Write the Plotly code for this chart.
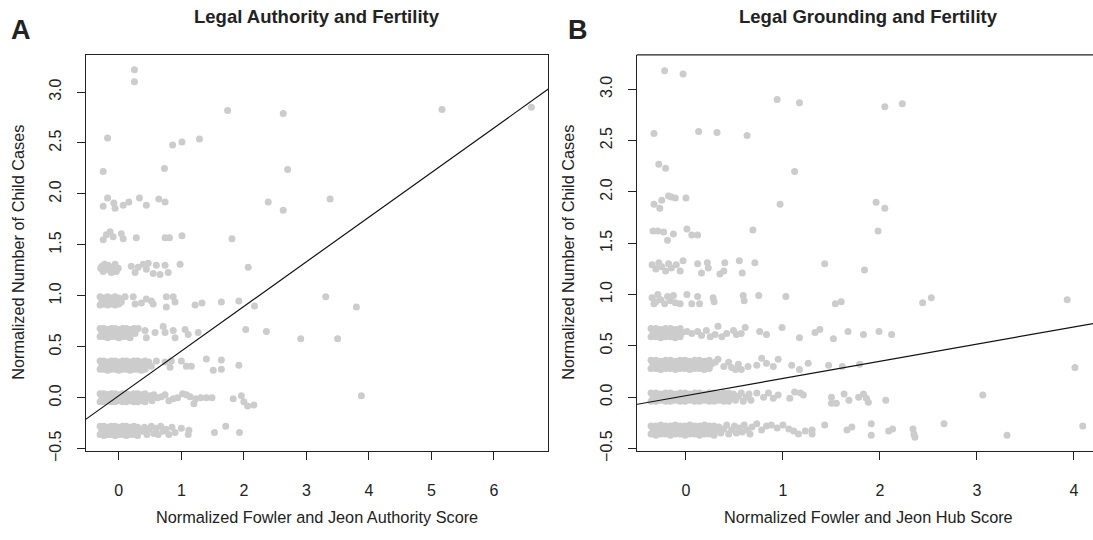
import plotly.graph_objects as go

# ---------------- Panel A: Authority score vs normalized child cases ----------------
auth_lvl1 = [
    (-0.30, -0.28), (-0.24, -0.28), (-0.18, -0.29), (-0.12, -0.28), (-0.06, -0.28), (0.00, -0.29), (0.06, -0.28),
    (0.12, -0.28), (0.18, -0.29), (0.24, -0.28), (0.30, -0.29),
    (-0.27, -0.32), (-0.21, -0.33), (-0.15, -0.32), (-0.09, -0.31), (-0.03, -0.32), (0.03, -0.33), (0.09, -0.32),
    (0.15, -0.31), (0.21, -0.32), (0.27, -0.33), (0.34, -0.32),
    (-0.30, -0.36), (-0.24, -0.37), (-0.18, -0.36), (-0.12, -0.36), (-0.06, -0.37), (0.00, -0.36), (0.06, -0.36),
    (0.12, -0.37), (0.18, -0.36), (0.24, -0.36), (0.30, -0.37),
    (0.38, -0.33), (0.41, -0.29), (0.45, -0.36), (0.48, -0.31), (0.52, -0.28), (0.56, -0.35), (0.60, -0.30),
    (0.63, -0.36), (0.67, -0.28), (0.71, -0.33), (0.75, -0.31), (0.80, -0.36), (0.85, -0.29), (0.90, -0.34),
    (1.00, -0.30), (1.11, -0.36), (1.12, -0.32), (1.53, -0.34), (1.71, -0.28), (1.93, -0.34),
]
auth_lvl2 = [
    (-0.30, 0.04), (-0.24, 0.04), (-0.18, 0.03), (-0.12, 0.04), (-0.06, 0.04), (0.00, 0.03), (0.06, 0.04),
    (0.12, 0.04), (0.18, 0.03), (0.24, 0.04), (0.30, 0.04), (0.36, 0.03), (0.42, 0.04),
    (-0.27, 0.00), (-0.21, -0.01), (-0.15, 0.00), (-0.09, 0.01), (-0.03, 0.00), (0.03, -0.01), (0.09, 0.00),
    (0.15, 0.01), (0.21, 0.00), (0.27, -0.01), (0.33, 0.00), (0.39, 0.01), (0.46, 0.00),
    (-0.30, -0.04), (-0.24, -0.04), (-0.18, -0.03), (-0.12, -0.04), (-0.06, -0.04), (0.00, -0.03), (0.06, -0.04),
    (0.12, -0.04), (0.18, -0.03), (0.24, -0.04), (0.30, -0.04), (0.36, -0.03), (0.42, -0.04),
    (0.50, 0.02), (0.53, -0.03),
    (0.56, 0.03), (0.62, 0.00), (0.68, 0.01), (0.74, 0.03), (0.80, -0.03), (0.87, -0.01), (0.94, 0.00),
    (1.02, 0.04), (1.08, 0.03), (1.14, 0.01), (1.20, -0.06), (1.23, -0.01), (1.31, 0.00), (1.40, 0.00),
    (1.49, 0.00), (1.83, -0.01), (1.96, 0.02), (2.00, -0.04), (2.06, -0.08), (2.16, -0.07), (3.88, 0.02),
]
auth_lvl3 = [
    (-0.30, 0.36), (-0.24, 0.36), (-0.18, 0.35), (-0.12, 0.36), (-0.06, 0.36), (0.00, 0.35), (0.06, 0.36),
    (0.12, 0.36), (0.18, 0.35), (0.24, 0.36), (0.30, 0.36), (0.36, 0.35), (0.42, 0.36), (0.48, 0.35),
    (-0.27, 0.32), (-0.21, 0.31), (-0.15, 0.32), (-0.09, 0.33), (-0.03, 0.32), (0.03, 0.31), (0.09, 0.32),
    (0.15, 0.33), (0.21, 0.32), (0.27, 0.31), (0.33, 0.32), (0.39, 0.33), (0.45, 0.32), (0.52, 0.31),
    (-0.30, 0.28), (-0.24, 0.28), (-0.18, 0.27), (-0.12, 0.28), (-0.06, 0.28), (0.00, 0.27), (0.06, 0.28),
    (0.12, 0.28), (0.18, 0.27), (0.24, 0.28), (0.30, 0.28), (0.36, 0.27), (0.42, 0.28),
    (0.60, 0.36), (0.74, 0.35), (0.84, 0.36), (0.82, 0.30), (1.00, 0.36), (1.08, 0.31), (1.16, 0.31),
    (1.40, 0.38), (1.51, 0.27), (1.64, 0.37), (1.64, 0.28), (1.92, 0.32),
]
auth_lvl4 = [
    (-0.30, 0.68), (-0.24, 0.68), (-0.18, 0.67), (-0.12, 0.68), (-0.06, 0.68), (0.00, 0.67), (0.06, 0.68),
    (0.12, 0.68), (0.18, 0.67), (0.24, 0.68),
    (-0.27, 0.64), (-0.21, 0.63), (-0.15, 0.64), (-0.09, 0.65), (-0.03, 0.64), (0.03, 0.63), (0.09, 0.64),
    (0.15, 0.65), (0.21, 0.64), (0.26, 0.63),
    (-0.30, 0.60), (-0.24, 0.60), (-0.18, 0.59), (-0.12, 0.60), (-0.06, 0.60), (0.00, 0.59), (0.06, 0.60),
    (0.12, 0.60), (0.18, 0.59),
    (0.31, 0.68), (0.42, 0.66), (0.44, 0.59), (0.58, 0.64), (0.71, 0.70), (0.74, 0.64), (0.87, 0.66),
    (0.90, 0.59), (1.06, 0.67), (1.11, 0.62), (1.27, 0.64), (2.03, 0.67), (2.36, 0.65), (2.91, 0.58),
    (3.50, 0.58),
]
auth_lvl5 = [
    (-0.30, 0.99), (-0.24, 0.98), (-0.18, 0.99), (-0.12, 0.98), (-0.06, 0.99), (0.00, 0.98),
    (-0.27, 0.95), (-0.21, 0.94), (-0.15, 0.95), (-0.09, 0.96), (-0.03, 0.95), (0.04, 0.94),
    (-0.30, 0.91), (-0.24, 0.92), (-0.18, 0.91), (-0.12, 0.92), (-0.06, 0.91), (0.00, 0.92),
    (0.10, 0.99), (0.23, 0.99), (0.26, 0.92), (0.36, 0.93), (0.44, 0.97), (0.52, 0.95), (0.55, 0.92),
    (0.76, 0.99), (0.87, 0.99), (0.90, 0.94), (0.76, 0.89), (1.22, 0.91), (1.33, 0.93), (1.64, 0.94),
    (1.92, 0.95), (2.17, 0.90), (3.31, 0.99), (3.80, 0.89),
]
auth_lvl6 = [
    (-0.27, 1.29), (-0.23, 1.31), (-0.20, 1.26), (-0.25, 1.24), (-0.17, 1.30), (-0.14, 1.25), (-0.10, 1.28),
    (-0.06, 1.31), (-0.04, 1.24), (-0.01, 1.27), (-0.29, 1.27), (-0.12, 1.23),
    (0.20, 1.29), (0.26, 1.23), (0.31, 1.28), (0.39, 1.31), (0.44, 1.26), (0.47, 1.32), (0.55, 1.22),
    (0.60, 1.30), (0.66, 1.21), (0.74, 1.30), (0.79, 1.23), (0.98, 1.31), (2.07, 1.28),
]
auth_upper = [
    (-0.25, 1.55), (-0.20, 1.60), (-0.14, 1.63), (-0.09, 1.58), (0.04, 1.61), (0.07, 1.56), (0.28, 1.57),
    (0.74, 1.57), (0.81, 1.57), (1.01, 1.59), (1.81, 1.56),
    (-0.25, 1.88), (-0.18, 1.96), (-0.08, 1.91), (-0.06, 1.86), (0.07, 1.89), (0.16, 1.92), (0.33, 1.96),
    (0.44, 1.89), (0.64, 1.95), (0.74, 1.92), (2.39, 1.92), (2.63, 1.84), (3.38, 1.95),
    (-0.25, 2.22), (0.73, 2.25), (2.70, 2.24), (-0.18, 2.55), (0.86, 2.48), (1.01, 2.51), (1.29, 2.54),
    (1.74, 2.82), (2.63, 2.79), (5.17, 2.83), (6.60, 2.85), (0.25, 3.22), (0.25, 3.10),
]
auth_fit = {"intercept": 0.02, "slope": 0.438}

# ---------------- Panel B: Hub score vs normalized child cases ----------------
hub_lvl1 = [
    (-0.36, -0.28), (-0.31, -0.28), (-0.26, -0.27), (-0.21, -0.28), (-0.16, -0.28), (-0.11, -0.27), (-0.06, -0.28),
    (-0.01, -0.28), (0.04, -0.27), (0.09, -0.28), (0.14, -0.28), (0.19, -0.27), (0.24, -0.28), (0.29, -0.28),
    (-0.34, -0.32), (-0.29, -0.33), (-0.24, -0.32), (-0.19, -0.31), (-0.14, -0.32), (-0.09, -0.33), (-0.04, -0.32),
    (0.01, -0.31), (0.06, -0.32), (0.11, -0.33), (0.16, -0.32), (0.21, -0.31), (0.26, -0.32), (0.31, -0.33),
    (-0.36, -0.36), (-0.31, -0.37), (-0.26, -0.36), (-0.21, -0.36), (-0.16, -0.37), (-0.11, -0.36), (-0.06, -0.36),
    (-0.01, -0.37), (0.04, -0.36), (0.09, -0.36), (0.14, -0.37), (0.19, -0.36), (0.24, -0.36), (0.29, -0.37),
    (0.34, -0.29), (0.36, -0.35), (0.39, -0.31), (0.42, -0.27), (0.44, -0.36), (0.47, -0.32), (0.50, -0.28),
    (0.52, -0.35), (0.55, -0.30), (0.58, -0.34), (0.60, -0.27), (0.63, -0.32), (0.66, -0.36), (0.68, -0.29),
    (0.73, -0.26), (0.78, -0.32), (0.83, -0.28), (0.88, -0.27), (0.94, -0.30), (1.00, -0.27), (1.06, -0.31),
    (1.11, -0.33), (1.16, -0.36), (1.23, -0.33), (1.30, -0.32), (1.30, -0.36), (1.43, -0.27), (1.66, -0.32),
    (1.71, -0.29), (1.91, -0.26), (1.91, -0.37), (2.09, -0.33), (2.13, -0.31), (2.34, -0.31), (2.35, -0.36),
    (2.36, -0.39), (2.66, -0.26), (3.31, -0.37), (4.09, -0.28),
]
hub_lvl2 = [
    (-0.36, 0.04), (-0.31, 0.04), (-0.26, 0.03), (-0.21, 0.04), (-0.16, 0.04), (-0.11, 0.03), (-0.06, 0.04),
    (-0.01, 0.04), (0.04, 0.03), (0.09, 0.04), (0.14, 0.04), (0.19, 0.03), (0.24, 0.04), (0.29, 0.04),
    (0.34, 0.03), (0.39, 0.04), (0.44, 0.04),
    (-0.34, 0.00), (-0.29, -0.01), (-0.24, 0.00), (-0.19, 0.01), (-0.14, 0.00), (-0.09, -0.01), (-0.04, 0.00),
    (0.01, 0.01), (0.06, 0.00), (0.11, -0.01), (0.16, 0.00), (0.21, 0.01), (0.26, 0.00), (0.31, -0.01),
    (0.36, 0.00), (0.41, 0.01), (0.46, 0.00),
    (-0.36, -0.04), (-0.31, -0.04), (-0.26, -0.03), (-0.21, -0.04), (-0.16, -0.04), (-0.11, -0.03), (-0.06, -0.04),
    (-0.01, -0.04), (0.04, -0.03), (0.09, -0.04), (0.14, -0.04), (0.19, -0.03), (0.24, -0.04), (0.29, -0.04),
    (0.34, -0.03), (0.39, -0.04), (0.44, -0.04),
    (0.49, 0.03), (0.51, -0.03), (0.54, 0.01), (0.57, 0.04), (0.59, -0.04), (0.62, 0.00), (0.65, 0.03),
    (0.67, -0.03),
    (0.73, 0.04), (0.80, 0.00), (0.85, 0.04), (0.90, -0.01), (0.95, 0.02), (1.07, -0.01), (1.12, 0.05),
    (1.18, 0.04), (1.21, 0.02), (1.50, 0.00), (1.50, -0.06), (1.55, -0.06), (1.63, 0.03), (1.68, -0.03),
    (1.78, 0.00), (1.83, 0.03), (1.86, -0.01), (1.88, -0.05), (2.06, -0.03), (3.06, 0.02),
]
hub_lvl3 = [
    (-0.36, 0.36), (-0.31, 0.36), (-0.26, 0.35), (-0.21, 0.36), (-0.16, 0.36), (-0.11, 0.35), (-0.06, 0.36),
    (-0.01, 0.36), (0.04, 0.35), (0.09, 0.36), (0.14, 0.36), (0.19, 0.35), (0.24, 0.36),
    (-0.34, 0.32), (-0.29, 0.31), (-0.24, 0.32), (-0.19, 0.33), (-0.14, 0.32), (-0.09, 0.31), (-0.04, 0.32),
    (0.01, 0.33), (0.06, 0.32), (0.11, 0.31), (0.16, 0.32), (0.21, 0.33), (0.26, 0.32),
    (-0.36, 0.28), (-0.31, 0.28), (-0.26, 0.27), (-0.21, 0.28), (-0.16, 0.28), (-0.11, 0.27), (-0.06, 0.28),
    (-0.01, 0.28), (0.04, 0.27), (0.09, 0.28), (0.14, 0.28), (0.19, 0.27), (0.24, 0.28),
    (0.30, 0.34), (0.33, 0.37), (0.39, 0.30), (0.44, 0.34), (0.47, 0.29), (0.51, 0.27), (0.54, 0.32),
    (0.57, 0.27), (0.64, 0.30), (0.73, 0.31), (0.78, 0.38), (0.83, 0.33), (0.90, 0.30), (0.95, 0.37),
    (1.09, 0.31), (1.17, 0.27), (1.26, 0.33), (1.47, 0.31), (1.61, 0.30), (1.79, 0.32), (4.01, 0.29),
]
hub_lvl4 = [
    (-0.36, 0.67), (-0.31, 0.67), (-0.26, 0.66), (-0.21, 0.67), (-0.16, 0.67), (-0.11, 0.66), (-0.06, 0.67),
    (-0.34, 0.63), (-0.29, 0.62), (-0.24, 0.63), (-0.19, 0.64), (-0.14, 0.63), (-0.09, 0.62), (-0.04, 0.63),
    (-0.36, 0.59), (-0.31, 0.59), (-0.26, 0.58), (-0.21, 0.59), (-0.16, 0.59), (-0.11, 0.58), (-0.06, 0.59),
    (0.01, 0.64), (0.06, 0.62), (0.12, 0.64), (0.16, 0.60), (0.21, 0.65), (0.25, 0.59), (0.30, 0.61),
    (0.33, 0.69), (0.37, 0.59), (0.42, 0.62), (0.49, 0.65), (0.52, 0.61), (0.57, 0.62), (0.61, 0.68),
    (0.76, 0.64), (0.83, 0.61), (0.99, 0.68), (1.17, 0.58), (1.33, 0.63), (1.38, 0.66), (1.52, 0.57),
    (1.67, 0.64), (1.83, 0.61), (1.99, 0.64), (2.12, 0.61),
]
hub_lvl5 = [
    (-0.35, 0.97), (-0.31, 0.93), (-0.29, 1.00), (-0.26, 0.95), (-0.22, 0.91), (-0.19, 0.98), (-0.16, 0.94),
    (-0.13, 0.99), (-0.11, 0.92), (-0.33, 0.91),
    (-0.06, 0.91), (0.01, 1.00), (0.06, 0.91), (0.12, 0.98), (0.14, 0.91), (0.28, 0.97), (0.29, 0.93),
    (0.59, 0.99), (0.60, 0.94), (0.75, 0.99), (1.03, 0.98), (1.54, 0.91), (1.60, 0.93), (2.44, 0.92),
    (2.53, 0.97), (3.93, 0.95),
]
hub_lvl6 = [
    (-0.35, 1.29), (-0.31, 1.25), (-0.28, 1.31), (-0.25, 1.27), (-0.21, 1.23), (-0.18, 1.30), (-0.15, 1.26),
    (-0.10, 1.29), (-0.06, 1.23), (-0.03, 1.33), (0.12, 1.30), (0.16, 1.21), (0.22, 1.31), (0.23, 1.26),
    (0.35, 1.20), (0.39, 1.23), (0.40, 1.31), (0.55, 1.33), (0.58, 1.21), (0.71, 1.31), (1.43, 1.30),
    (1.84, 1.24),
]
hub_upper = [
    (-0.34, 1.62), (-0.29, 1.62), (-0.23, 1.61), (-0.19, 1.53), (-0.13, 1.59), (0.01, 1.64), (0.06, 1.58),
    (0.12, 1.58), (0.69, 1.63), (1.98, 1.62),
    (-0.33, 1.88), (-0.27, 1.84), (-0.25, 1.92), (-0.18, 1.96), (-0.15, 1.95), (-0.11, 1.94), (0.00, 1.94),
    (0.97, 1.88), (1.96, 1.90), (2.05, 1.84),
    (-0.28, 2.27), (-0.21, 2.23), (1.12, 2.20), (-0.33, 2.57), (0.13, 2.59), (0.32, 2.58), (0.63, 2.55),
    (0.94, 2.90), (1.17, 2.87), (2.05, 2.83), (2.23, 2.86), (-0.22, 3.18), (-0.03, 3.15),
]
hub_fit = {"intercept": 0.015, "slope": 0.1675}

# ---------------- Axes ticks / labels ----------------
auth_xticks = [0, 1, 2, 3, 4, 5, 6]
hub_xticks = [0, 1, 2, 3, 4]
y_tickvals = [-0.5, 0.0, 0.5, 1.0, 1.5, 2.0, 2.5, 3.0]
y_ticktext = ["\u22120.5", "0.0", "0.5", "1.0", "1.5", "2.0", "2.5", "3.0"]

auth_xrange = [-0.525, 6.87]
auth_yrange = [-0.519, 3.365]
hub_xrange = [-0.508, 4.196]
hub_yrange = [-0.521, 3.336]

W, H = 1093, 540
FONT = "Liberation Sans, Arial, Helvetica, sans-serif"
INK = "#222222"
DOT = "#cccccc"

auth_pts = auth_lvl1 + auth_lvl2 + auth_lvl3 + auth_lvl4 + auth_lvl5 + auth_lvl6 + auth_upper
hub_pts = hub_lvl1 + hub_lvl2 + hub_lvl3 + hub_lvl4 + hub_lvl5 + hub_lvl6 + hub_upper

fig = go.Figure()
fig.add_trace(go.Scatter(
    x=[p[0] for p in auth_pts], y=[p[1] for p in auth_pts], mode="markers",
    marker=dict(color=DOT, size=7, line=dict(width=0)), xaxis="x", yaxis="y", hoverinfo="skip"))
fig.add_trace(go.Scatter(
    x=[p[0] for p in hub_pts], y=[p[1] for p in hub_pts], mode="markers",
    marker=dict(color=DOT, size=7, line=dict(width=0)), xaxis="x2", yaxis="y2", hoverinfo="skip"))

ax = [auth_xrange[0] - 1, auth_xrange[1] + 1]
fig.add_trace(go.Scatter(
    x=ax, y=[auth_fit["intercept"] + auth_fit["slope"] * v for v in ax], mode="lines",
    line=dict(color="#111111", width=1.2), xaxis="x", yaxis="y", hoverinfo="skip"))
hx = [hub_xrange[0] - 1, hub_xrange[1] + 1]
fig.add_trace(go.Scatter(
    x=hx, y=[hub_fit["intercept"] + hub_fit["slope"] * v for v in hx], mode="lines",
    line=dict(color="#111111", width=1.2), xaxis="x2", yaxis="y2", hoverinfo="skip"))

# plot-box geometry (pixels)
A_left, A_right = 86, 548.3
B_left = 636.7
box_top, box_bot = 56, 460
ydom = [(H - box_bot) / H, (H - box_top) / H]

axis_common = dict(showgrid=False, zeroline=False, showline=True, linecolor=INK, linewidth=1.3,
                   ticks="outside", ticklen=8, tickwidth=1.2, tickcolor=INK,
                   tickfont=dict(family=FONT, size=16, color=INK))

fig.update_layout(
    width=W, height=H, margin=dict(l=0, r=0, t=0, b=0),
    paper_bgcolor="white", plot_bgcolor="white", showlegend=False,
    xaxis=dict(domain=[A_left / W, A_right / W], range=auth_xrange, tickvals=auth_xticks,
               anchor="y", mirror=True, ticklabelstandoff=17, **axis_common),
    yaxis=dict(domain=ydom, range=auth_yrange, tickvals=y_tickvals, ticktext=y_ticktext,
               tickangle=-90, anchor="x", mirror=True, ticklabelstandoff=9, **axis_common),
    xaxis2=dict(domain=[B_left / W, 1.0], range=hub_xrange, tickvals=hub_xticks,
                anchor="y2", ticklabelstandoff=17, **axis_common),
    yaxis2=dict(domain=ydom, range=hub_yrange, tickvals=y_tickvals, ticktext=y_ticktext,
                tickangle=-90, anchor="x2", ticklabelstandoff=9, **axis_common),
)

# top border of panel B (its right border lies outside the window)
fig.add_shape(type="line", xref="paper", yref="paper", x0=B_left / W, x1=1.0,
              y0=ydom[1], y1=ydom[1], line=dict(color=INK, width=1.3))

def ann(text, x, y, size, bold=False, angle=0):
    fig.add_annotation(text=f"<b>{text}</b>" if bold else text, x=x / W, y=(H - y) / H,
                       xref="paper", yref="paper", xanchor="center", yanchor="middle",
                       showarrow=False, textangle=angle,
                       font=dict(family=FONT, size=size, color=INK))

ann("Legal Authority and Fertility", (A_left + A_right) / 2, 17, 18.5, bold=True)
ann("Legal Grounding and Fertility", 868, 17, 18.5, bold=True)
ann("A", 21, 31, 27, bold=True)
ann("B", 578, 31, 27, bold=True)
ann("Normalized Fowler and Jeon Authority Score", (A_left + A_right) / 2, 528, 16.3)
ann("Normalized Fowler and Jeon Hub Score", 868, 528, 16.3)
ann("Normalized Number of Child Cases", 18, 258, 16.3, angle=-90)
ann("Normalized Number of Child Cases", 568, 258, 16.3, angle=-90)

fig.write_html("out.html")
